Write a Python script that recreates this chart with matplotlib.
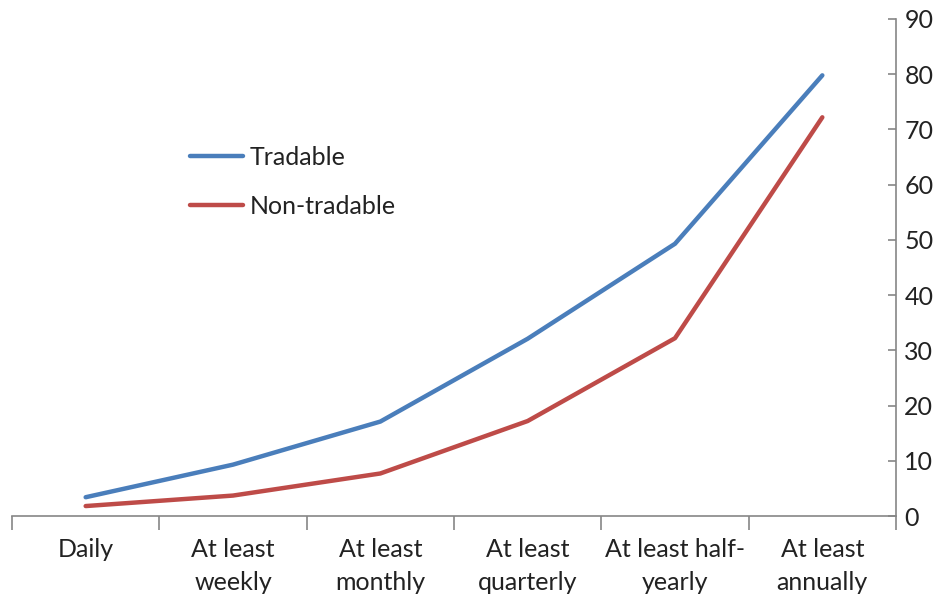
import matplotlib
matplotlib.use("Agg")
import matplotlib.pyplot as plt
import numpy as np

categories = ["Daily", "At least\nweekly", "At least\nmonthly", "At least\nquarterly",
              "At least half-\nyearly", "At least\nannually"]
tradable = [3.4, 9.3, 17.1, 32.1, 49.3, 79.8]
non_tradable = [1.8, 3.7, 7.7, 17.2, 32.2, 72.2]
y_ticks = [0, 10, 20, 30, 40, 50, 60, 70, 80, 90]

plt.rcParams['font.family'] = ['Lato', 'DejaVu Sans']

fig = plt.figure(figsize=(9.53, 5.96), dpi=100)
ax = fig.add_axes([12/953, 1 - 516/596, (896 - 12)/953, (516 - 19)/596])

x = np.arange(len(categories))
ax.plot(x, tradable, color="#4a7ebb", lw=3.2, solid_capstyle="round", label="Tradable")
ax.plot(x, non_tradable, color="#be4b48", lw=3.2, solid_capstyle="round", label="Non-tradable")

ax.set_xlim(-0.5, len(categories) - 0.5)
ax.set_ylim(0, 90)

axis_color = "#868686"
for side in ["top", "left"]:
    ax.spines[side].set_visible(False)
for side in ["right", "bottom"]:
    ax.spines[side].set_color(axis_color)
    ax.spines[side].set_linewidth(1.2)

ax.yaxis.tick_right()
ax.set_yticks(y_ticks)
ax.tick_params(axis="y", direction="in", length=6, width=1.2, color=axis_color,
               labelsize=18, labelcolor="#222222", pad=6)

ax.set_xticks(x)
ax.set_xticklabels(categories, linespacing=1.5)
ax.set_xticks(np.arange(-0.5, len(categories)), minor=True)
ax.tick_params(axis="x", which="major", length=0, labelsize=18, labelcolor="#222222", pad=16)
ax.tick_params(axis="x", which="minor", direction="out", length=10, width=1.2, color=axis_color)

ax.legend(loc="upper left", bbox_to_anchor=(0.2014, 0.745), frameon=False, fontsize=18,
          borderpad=0, borderaxespad=0,
          handlelength=2.1, handletextpad=0.3, labelspacing=1.05, labelcolor="#222222")

fig.savefig("out.png", dpi=100)
